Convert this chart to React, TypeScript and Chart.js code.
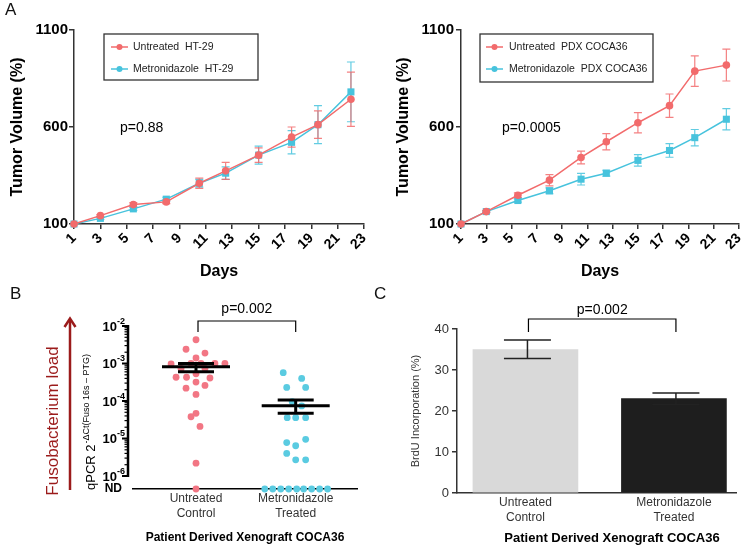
import React, { useEffect, useRef } from 'react';
import { Chart, registerables } from 'chart.js';

Chart.register(...registerables);

const SANS = '"Liberation Sans", Arial, Helvetica, sans-serif';

// ---------------- Panel A data ----------------
const DAYS = [1, 3, 5.5, 8, 10.5, 12.5, 15, 17.5, 19.5, 22];
const DAY_TICKS = [1, 3, 5, 7, 9, 11, 13, 15, 17, 19, 21, 23];
const VOLUME_TICKS = [100, 600, 1100];

const HT29_UNTREATED = [100, 143, 200, 214, 310, 374, 455, 548, 612, 743];
const HT29_UNTREATED_SEM = [0, 6, 10, 9, 26, 44, 37, 52, 71, 140];
const HT29_METRO = [100, 129, 178, 228, 310, 362, 455, 521, 612, 781];
const HT29_METRO_SEM = [0, 5, 8, 10, 20, 32, 46, 60, 98, 154];

const PDX_UNTREATED = [100, 164, 248, 326, 443, 524, 622, 710, 888, 919];
const PDX_UNTREATED_SEM = [0, 5, 12, 29, 33, 42, 52, 60, 79, 82];
const PDX_METRO = [100, 164, 221, 271, 331, 362, 428, 479, 545, 640];
const PDX_METRO_SEM = [0, 4, 8, 15, 30, 15, 30, 35, 42, 55];

// ---------------- Panel B data ----------------
const ND = 4.5e-7; // "not detected" level, drawn on the ND line
const B_GROUPS = [['Untreated', 'Control'], ['Metronidazole', 'Treated']];
const B_UNTREATED_X = [1.0, 0.9, 1.09, 1.0, 0.75, 0.95, 1.05, 1.19, 1.29, 0.85, 1.09, 0.8, 1.0, 0.905, 1.14, 0.9, 1.0, 1.09, 1.0, 1.0, 0.95, 1.04, 1.0, 1.0];
const B_UNTREATED_Y = [4.3e-3, 2.4e-3, 1.9e-3, 1.4e-3, 9.7e-4, 1.0e-3, 1.0e-3, 1.0e-3, 1.0e-3, 7.4e-4, 7.4e-4, 4.3e-4, 5.3e-4, 4.3e-4, 4.1e-4, 2.2e-4, 3.2e-4, 2.6e-4, 1.5e-4, 4.7e-5, 3.8e-5, 2.1e-5, 2.2e-6, ND];
const B_METRO_X = [1.875, 2.06, 1.91, 2.1, 1.965, 2.06, 1.915, 2.0, 2.1, 2.1, 1.91, 2.0, 1.91, 2.0, 2.1, 1.69, 1.77, 1.85, 1.93, 2.01, 2.08, 2.16, 2.24, 2.32];
const B_METRO_Y = [5.7e-4, 4.0e-4, 2.3e-4, 2.3e-4, 9.6e-5, 7.4e-5, 3.6e-5, 3.6e-5, 3.6e-5, 9.5e-6, 7.8e-6, 6.4e-6, 4.0e-6, 2.7e-6, 2.7e-6, ND, ND, ND, ND, ND, ND, ND, ND, ND];
const B_MEAN = [8.2e-4, 7.5e-5];
const B_SEM_HIGH = [1.0e-3, 1.06e-4];
const B_SEM_LOW = [6.05e-4, 4.7e-5];
const B_EXPONENTS = [-2, -3, -4, -5, -6];
const B_P = 'p=0.002';

// ---------------- Panel C data ----------------
const C_GROUPS = [['Untreated', 'Control'], ['Metronidazole', 'Treated']];
const C_VALUES = [35, 23];
const C_ERR_HIGH = [37.3, 24.4];
const C_ERR_LOW = [32.8, 21.6];
const C_TICKS = [0, 10, 20, 30, 40];
const C_P = 'p=0.002';

const RED = '#F26B6C';
const CYAN = '#47C3DD';
const PINK = '#F27684';
const CYAN_B = '#5ACBE1';
const DARK_RED = '#9B1B1B';

// ---------------- plugins ----------------
function errorBarPlugin(sems: number[][], cap: number) {
  return {
    id: 'errorBars',
    beforeDatasetsDraw(chart: any) {
      const { ctx } = chart;
      const y = chart.scales.y;
      for (let di = chart.data.datasets.length - 1; di >= 0; di--) {
        const ds = chart.data.datasets[di];
        const meta = chart.getDatasetMeta(di);
        ctx.save();
        ctx.strokeStyle = ds.borderColor;
        ctx.globalAlpha = 0.85;
        ctx.lineWidth = 1.2;
        meta.data.forEach((pt: any, i: number) => {
          const s = sems[di][i];
          if (!s) return;
          const v = ds.data[i].y;
          const top = y.getPixelForValue(v + s);
          const bot = y.getPixelForValue(v - s);
          ctx.beginPath();
          ctx.moveTo(pt.x, top); ctx.lineTo(pt.x, bot);
          ctx.moveTo(pt.x - cap, top); ctx.lineTo(pt.x + cap, top);
          ctx.moveTo(pt.x - cap, bot); ctx.lineTo(pt.x + cap, bot);
          ctx.stroke();
        });
        ctx.restore();
      }
    },
  };
}

function boxLegendPlugin(o: { x: number; y: number; w: number; h: number; lx1: number; lx2: number; tx: number; rows: number[] }) {
  return {
    id: 'boxLegend',
    afterDraw(chart: any) {
      const { ctx } = chart;
      ctx.save();
      ctx.fillStyle = '#fff';
      ctx.fillRect(o.x, o.y, o.w, o.h);
      ctx.strokeStyle = '#333';
      ctx.lineWidth = 1.3;
      ctx.strokeRect(o.x, o.y, o.w, o.h);
      chart.data.datasets.forEach((ds: any, i: number) => {
        const ry = o.rows[i];
        ctx.strokeStyle = ds.borderColor;
        ctx.lineWidth = 1.5;
        ctx.beginPath(); ctx.moveTo(o.lx1, ry); ctx.lineTo(o.lx2, ry); ctx.stroke();
        ctx.fillStyle = ds.borderColor;
        ctx.beginPath(); ctx.arc((o.lx1 + o.lx2) / 2, ry, 3, 0, Math.PI * 2); ctx.fill();
        ctx.fillStyle = '#222';
        ctx.font = `10.5px ${SANS}`;
        ctx.textBaseline = 'middle';
        ctx.textAlign = 'left';
        ctx.fillText(ds.label, o.tx, ry);
      });
      ctx.restore();
    },
  };
}

type TextItem = { text: string; x: number; y: number; font: string; color?: string; align?: CanvasTextAlign };
function textPlugin(items: TextItem[]) {
  return {
    id: 'freeText',
    afterDraw(chart: any) {
      const { ctx } = chart;
      items.forEach((t) => {
        ctx.save();
        ctx.font = t.font;
        ctx.fillStyle = t.color || '#000';
        ctx.textAlign = t.align || 'center';
        ctx.textBaseline = 'middle';
        ctx.fillText(t.text, t.x, t.y);
        ctx.restore();
      });
    },
  };
}

// ---------------- configs ----------------
function makeLineConfig(p: {
  redLabel: string; blueLabel: string;
  red: number[]; redSem: number[]; blue: number[]; blueSem: number[];
  yWidth: number; yTitlePad: number; yTickPad: number; rightPad: number;
  pText: string; pX: number;
  legend: { x: number; y: number; w: number; h: number; lx1: number; lx2: number; tx: number; rows: number[] };
}) {
  return {
    type: 'line',
    data: {
      datasets: [
        {
          label: p.redLabel,
          data: DAYS.map((d, i) => ({ x: d, y: p.red[i] })),
          borderColor: RED, backgroundColor: RED,
          pointStyle: 'circle', pointRadius: 3.8, pointBorderWidth: 0,
          borderWidth: 1.5, clip: false,
        },
        {
          label: p.blueLabel,
          data: DAYS.map((d, i) => ({ x: d, y: p.blue[i] })),
          borderColor: CYAN, backgroundColor: CYAN,
          pointStyle: 'rect', pointRadius: 5, pointBorderWidth: 0,
          borderWidth: 1.5, clip: false,
        },
      ],
    },
    options: {
      responsive: false,
      animation: false,
      events: [],
      layout: { padding: { left: 0, top: 30, right: p.rightPad, bottom: 0 } },
      plugins: { legend: { display: false }, tooltip: { enabled: false } },
      scales: {
        x: {
          type: 'linear', min: 1, max: 23,
          afterBuildTicks: (s: any) => { s.ticks = DAY_TICKS.map((v) => ({ value: v })); },
          afterFit: (s: any) => { s.height = 66; },
          ticks: {
            callback: (v: any) => String(v),
            font: { family: SANS, size: 14, weight: 'bold' }, color: '#000',
            minRotation: 45, maxRotation: 45, padding: 1, autoSkip: false,
          },
          grid: { drawOnChartArea: false, drawTicks: true, tickLength: 5, color: '#333', lineWidth: 1.5 },
          border: { color: '#333', width: 1.5 },
          title: { display: true, text: 'Days', color: '#000', font: { family: SANS, size: 16, weight: 'bold' }, padding: { top: 0, bottom: 9 } },
        },
        y: {
          type: 'linear', min: 100, max: 1100,
          afterBuildTicks: (s: any) => { s.ticks = VOLUME_TICKS.map((v) => ({ value: v })); },
          afterFit: (s: any) => { s.width = p.yWidth; },
          ticks: { callback: (v: any) => String(v), font: { family: SANS, size: 15, weight: 'bold' }, color: '#000', padding: p.yTickPad },
          grid: { drawOnChartArea: false, drawTicks: true, tickLength: 5, color: '#333', lineWidth: 1.5 },
          border: { color: '#333', width: 1.5 },
          title: { display: true, text: 'Tumor Volume (%)', color: '#000', font: { family: SANS, size: 16, weight: 'bold' }, padding: { top: p.yTitlePad, bottom: 0 } },
        },
      },
    },
    plugins: [
      errorBarPlugin([p.redSem, p.blueSem], 4),
      boxLegendPlugin(p.legend),
      textPlugin([{ text: p.pText, x: p.pX, y: 128, font: `14px ${SANS}`, align: 'left' }]),
    ],
  };
}

const panelBPlugin = {
  id: 'panelB',
  afterDatasetsDraw(chart: any) {
    const { ctx } = chart;
    const { x, y } = chart.scales;
    ctx.save();
    ctx.strokeStyle = '#000';
    ctx.lineWidth = 3;
    B_MEAN.forEach((m, i) => {
      const cx = x.getPixelForValue(i + 1);
      const my = y.getPixelForValue(m);
      const hy = y.getPixelForValue(B_SEM_HIGH[i]);
      const ly = y.getPixelForValue(B_SEM_LOW[i]);
      ctx.beginPath();
      ctx.moveTo(cx - 34, my); ctx.lineTo(cx + 34, my);
      ctx.moveTo(cx - 18, hy); ctx.lineTo(cx + 18, hy);
      ctx.moveTo(cx - 18, ly); ctx.lineTo(cx + 18, ly);
      ctx.moveTo(cx, hy); ctx.lineTo(cx, ly);
      ctx.stroke();
    });
    ctx.restore();
  },
  afterDraw(chart: any) {
    const { ctx, chartArea } = chart;
    const { x, y } = chart.scales;
    const ax = chartArea.left - 5;
    ctx.save();
    // y axis line
    const yTop = y.getPixelForValue(10 ** B_EXPONENTS[0]);
    const yBot = y.getPixelForValue(10 ** B_EXPONENTS[B_EXPONENTS.length - 1]);
    ctx.strokeStyle = '#000';
    ctx.lineWidth = 2.5;
    ctx.beginPath(); ctx.moveTo(ax, yTop - 1); ctx.lineTo(ax, yBot + 1); ctx.stroke();
    B_EXPONENTS.forEach((e) => {
      const py = y.getPixelForValue(10 ** e);
      ctx.lineWidth = 2;
      ctx.beginPath(); ctx.moveTo(ax - 6, py); ctx.lineTo(ax, py); ctx.stroke();
      if (e < B_EXPONENTS[0]) {
        ctx.lineWidth = 1.2;
        for (let m = 2; m <= 9; m++) {
          const my = y.getPixelForValue(m * 10 ** e);
          ctx.beginPath(); ctx.moveTo(ax - 3.5, my); ctx.lineTo(ax, my); ctx.stroke();
        }
      }
      const sup = String(e);
      ctx.fillStyle = '#000';
      ctx.font = `bold 9px ${SANS}`;
      const supW = ctx.measureText(sup).width;
      ctx.font = `bold 13px ${SANS}`;
      const baseW = ctx.measureText('10').width;
      const right = ax - 3;
      ctx.textAlign = 'left';
      ctx.textBaseline = 'alphabetic';
      ctx.fillText('10', right - supW - baseW, py + 5);
      ctx.font = `bold 9px ${SANS}`;
      ctx.fillText(sup, right - supW, py - 2);
    });
    // ND label
    const ndY = y.getPixelForValue(ND);
    ctx.font = `bold 12px ${SANS}`;
    ctx.textAlign = 'right';
    ctx.textBaseline = 'middle';
    ctx.fillText('ND', ax - 6, ndY);

    // bracket + p-value
    const x1 = x.getPixelForValue(1) + 2;
    const x2 = x.getPixelForValue(2);
    ctx.lineWidth = 1.2;
    ctx.beginPath();
    ctx.moveTo(x1, 42); ctx.lineTo(x1, 31); ctx.lineTo(x2, 31); ctx.lineTo(x2, 42);
    ctx.stroke();
    ctx.font = `14px ${SANS}`;
    ctx.textAlign = 'center';
    ctx.fillText(B_P, (x1 + x2) / 2, 19);

    // Fusobacterium load arrow + label
    ctx.strokeStyle = DARK_RED;
    ctx.fillStyle = DARK_RED;
    ctx.lineWidth = 2.5;
    ctx.beginPath(); ctx.moveTo(70, 200); ctx.lineTo(70, 30); ctx.stroke();
    ctx.beginPath(); ctx.moveTo(64.5, 37); ctx.lineTo(70, 28.5); ctx.lineTo(75.5, 37); ctx.stroke();
    ctx.save();
    ctx.translate(53, 131);
    ctx.rotate(-Math.PI / 2);
    ctx.font = `17px ${SANS}`;
    ctx.textAlign = 'center';
    ctx.textBaseline = 'middle';
    ctx.fillText('Fusobacterium load', 0, 0);
    ctx.restore();

    // qPCR axis label
    ctx.save();
    ctx.translate(95, 200);
    ctx.rotate(-Math.PI / 2);
    ctx.fillStyle = '#000';
    ctx.textAlign = 'left';
    ctx.textBaseline = 'alphabetic';
    ctx.font = `13px ${SANS}`;
    const mainTxt = 'qPCR 2';
    const mw = ctx.measureText(mainTxt).width;
    ctx.fillText(mainTxt, 0, 0);
    ctx.font = `9px ${SANS}`;
    ctx.fillText('-\u0394Ct(Fuso 16s \u2013 PTG)', mw + 1, -6);
    ctx.restore();
    ctx.restore();
  },
};

function makeBConfig() {
  return {
    type: 'scatter',
    data: {
      datasets: [
        {
          label: 'Untreated Control',
          data: B_UNTREATED_X.map((v, i) => ({ x: v, y: B_UNTREATED_Y[i] })),
          backgroundColor: PINK, borderColor: PINK, pointRadius: 3.4, pointBorderWidth: 0, clip: false,
        },
        {
          label: 'Metronidazole Treated',
          data: B_METRO_X.map((v, i) => ({ x: v, y: B_METRO_Y[i] })),
          backgroundColor: CYAN_B, borderColor: CYAN_B, pointRadius: 3.4, pointBorderWidth: 0, clip: false,
        },
      ],
    },
    options: {
      responsive: false,
      animation: false,
      events: [],
      layout: { padding: { left: 133, top: 36, right: 20, bottom: 0 } },
      plugins: { legend: { display: false }, tooltip: { enabled: false } },
      scales: {
        x: {
          type: 'linear', min: 0.368, max: 2.615,
          afterBuildTicks: (s: any) => { s.ticks = [{ value: 1 }, { value: 2 }]; },
          afterFit: (s: any) => { s.height = 60; },
          ticks: {
            callback: (v: any) => B_GROUPS[Math.round(v) - 1],
            font: { family: SANS, size: 12, lineHeight: 1.25 }, color: '#333', padding: 2, autoSkip: false, maxRotation: 0,
          },
          grid: { display: false, drawTicks: false },
          border: { color: '#000', width: 1.5 },
          title: { display: true, text: 'Patient Derived Xenograft COCA36', color: '#000', font: { family: SANS, size: 12, weight: 'bold' }, padding: { top: 0, bottom: 4 } },
        },
        y: { type: 'logarithmic', min: ND, max: 1e-2, display: false },
      },
    },
    plugins: [panelBPlugin],
  };
}

const panelCPlugin = {
  id: 'panelC',
  afterDatasetsDraw(chart: any) {
    const { ctx } = chart;
    const { x, y } = chart.scales;
    ctx.save();
    ctx.strokeStyle = '#222';
    ctx.lineWidth = 1.5;
    C_VALUES.forEach((_v, i) => {
      const cx = x.getPixelForValue(i + 1) + 2;
      const hy = y.getPixelForValue(C_ERR_HIGH[i]);
      const ly = y.getPixelForValue(C_ERR_LOW[i]);
      ctx.beginPath();
      ctx.moveTo(cx, hy); ctx.lineTo(cx, ly);
      ctx.moveTo(cx - 23.5, hy); ctx.lineTo(cx + 23.5, hy);
      ctx.moveTo(cx - 23.5, ly); ctx.lineTo(cx + 23.5, ly);
      ctx.stroke();
    });
    ctx.restore();
  },
  afterDraw(chart: any) {
    const { ctx } = chart;
    const { x } = chart.scales;
    ctx.save();
    const x1 = x.getPixelForValue(1) + 3;
    const x2 = x.getPixelForValue(2) + 2;
    ctx.strokeStyle = '#000';
    ctx.lineWidth = 1.2;
    ctx.beginPath();
    ctx.moveTo(x1, 42); ctx.lineTo(x1, 29); ctx.lineTo(x2, 29); ctx.lineTo(x2, 42);
    ctx.stroke();
    ctx.fillStyle = '#000';
    ctx.font = `14px ${SANS}`;
    ctx.textAlign = 'center';
    ctx.textBaseline = 'middle';
    ctx.fillText(C_P, (x1 + x2) / 2, 20);
    ctx.font = `bold 13px ${SANS}`;
    ctx.fillText('Patient Derived Xenograft COCA36', 235, 248);
    ctx.restore();
  },
};

function makeCConfig() {
  return {
    type: 'bar',
    data: {
      datasets: [
        {
          label: 'BrdU',
          data: C_VALUES.map((v, i) => ({ x: i + 1, y: v })),
          backgroundColor: ['#D9D9D9', '#1E1E1E'],
          borderWidth: 0,
          barThickness: 105,
        },
      ],
    },
    options: {
      responsive: false,
      animation: false,
      events: [],
      layout: { padding: { left: 0, top: 39, right: 18, bottom: 0 } },
      plugins: { legend: { display: false }, tooltip: { enabled: false } },
      scales: {
        x: {
          type: 'linear', offset: false, min: 0.539, max: 2.418,
          afterBuildTicks: (s: any) => { s.ticks = [{ value: 1 }, { value: 2 }]; },
          afterFit: (s: any) => { s.height = 56; },
          ticks: {
            callback: (v: any) => C_GROUPS[Math.round(v) - 1],
            font: { family: SANS, size: 12, lineHeight: 1.25 }, color: '#333', padding: 2, autoSkip: false, maxRotation: 0,
          },
          grid: { display: false, drawTicks: false, offset: false },
          border: { color: '#333', width: 1.5 },
        },
        y: {
          type: 'linear', min: 0, max: 40,
          afterBuildTicks: (s: any) => { s.ticks = C_TICKS.map((v) => ({ value: v })); },
          afterFit: (s: any) => { s.width = 80; },
          ticks: { callback: (v: any) => String(v), font: { family: SANS, size: 13 }, color: '#333', padding: 3 },
          grid: { drawOnChartArea: false, drawTicks: true, tickLength: 5, color: '#333', lineWidth: 1.5 },
          border: { color: '#333', width: 1.5 },
          title: { display: true, text: 'BrdU Incorporation (%)', color: '#333', font: { family: SANS, size: 11 }, padding: { top: 32, bottom: 0 } },
        },
      },
    },
    plugins: [panelCPlugin],
  };
}

// ---------------- components ----------------
function ChartBox(props: { left: number; top: number; width: number; height: number; make: () => any }) {
  const ref = useRef<HTMLCanvasElement>(null);
  useEffect(() => {
    const chart = new Chart(ref.current as HTMLCanvasElement, props.make());
    return () => chart.destroy();
  }, []);
  return (
    <div style={{ position: 'absolute', left: props.left, top: props.top, width: props.width, height: props.height }}>
      <canvas ref={ref} width={props.width} height={props.height} style={{ display: 'block', width: props.width, height: props.height }} />
    </div>
  );
}

const letterStyle = (left: number, top: number): React.CSSProperties => ({
  position: 'absolute', left, top, fontFamily: SANS, fontSize: 17, lineHeight: '20px', color: '#111',
});

export default function App() {
  return (
    <div style={{ position: 'absolute', left: 0, top: 0, width: 754, height: 549, background: '#fff', overflow: 'hidden' }}>
      <ChartBox
        left={0} top={0} width={377} height={290}
        make={() => makeLineConfig({
          redLabel: 'Untreated  HT-29', blueLabel: 'Metronidazole  HT-29',
          red: HT29_UNTREATED, redSem: HT29_UNTREATED_SEM, blue: HT29_METRO, blueSem: HT29_METRO_SEM,
          yWidth: 74, yTitlePad: 8, yTickPad: 1, rightPad: 11,
          pText: 'p=0.88', pX: 120,
          legend: { x: 104, y: 34, w: 154, h: 46, lx1: 111, lx2: 128, tx: 133, rows: [47, 69] },
        })}
      />
      <ChartBox
        left={377} top={0} width={377} height={290}
        make={() => makeLineConfig({
          redLabel: 'Untreated  PDX COCA36', blueLabel: 'Metronidazole  PDX COCA36',
          red: PDX_UNTREATED, redSem: PDX_UNTREATED_SEM, blue: PDX_METRO, blueSem: PDX_METRO_SEM,
          yWidth: 84, yTitlePad: 17, yTickPad: 2, rightPad: 15,
          pText: 'p=0.0005', pX: 125,
          legend: { x: 103, y: 34, w: 173, h: 48, lx1: 109, lx2: 126, tx: 132, rows: [47, 69] },
        })}
      />
      <ChartBox left={0} top={290} width={377} height={259} make={makeBConfig} />
      <ChartBox left={377} top={290} width={377} height={259} make={makeCConfig} />
      <div style={letterStyle(5, 0)}>A</div>
      <div style={letterStyle(10, 284)}>B</div>
      <div style={letterStyle(374, 284)}>C</div>
    </div>
  );
}
